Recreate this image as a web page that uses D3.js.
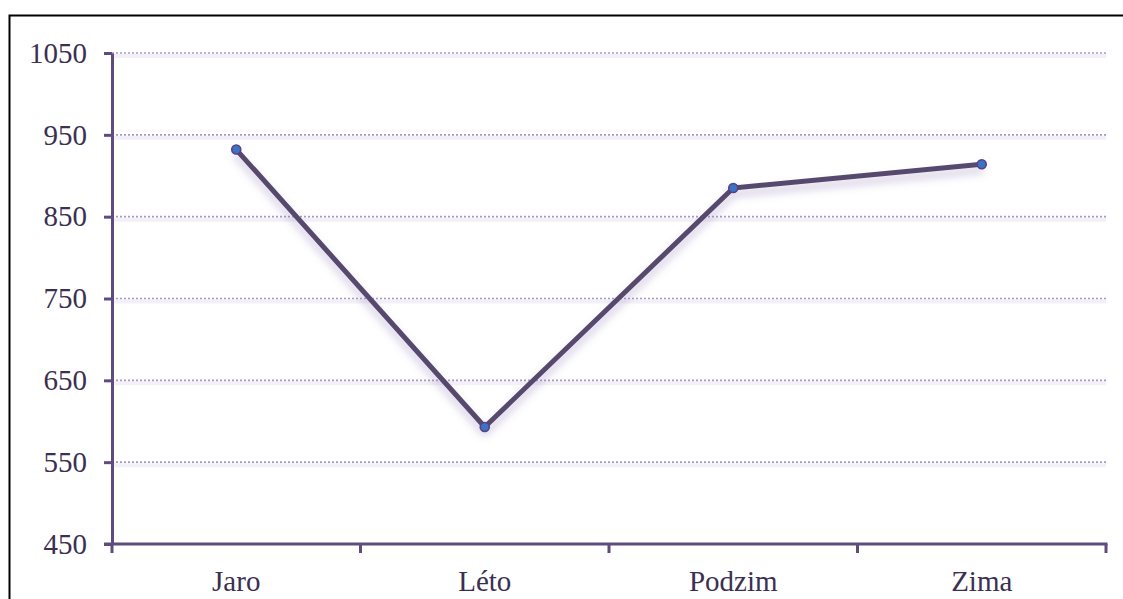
<!DOCTYPE html>
<html>
<head>
<meta charset="utf-8">
<script src="https://cdn.jsdelivr.net/npm/d3@7"></script>
<style>
  html, body { margin: 0; padding: 0; background: #fff; }
  svg { display: block; }
  .lbl { font-family: "Liberation Serif", "Times New Roman", Tinos, "DejaVu Serif", serif; font-size: 29px; }
</style>
</head>
<body>
<script>
// Seasonal values
const categories = ["Jaro", "Léto", "Podzim", "Zima"];
const values = [932, 593, 885, 914];
const yTicks = [450, 550, 650, 750, 850, 950, 1050];

const W = 1123, H = 599;
const plotLeft = 112, plotRight = 1106, plotTop = 53, plotBottom = 544;

const svg = d3.select("body").append("svg").attr("width", W).attr("height", H);

const defs = svg.append("defs");
const shadow = defs.append("filter").attr("id", "lineShadow")
  .attr("x", "-10%").attr("y", "-10%").attr("width", "120%").attr("height", "130%");
shadow.append("feDropShadow")
  .attr("dx", 0).attr("dy", 6).attr("stdDeviation", 4)
  .attr("flood-color", "#8c78b4").attr("flood-opacity", 0.45);

// Outer frame
svg.append("rect")
  .attr("x", 9.5).attr("y", 15.5)
  .attr("width", W + 20).attr("height", H + 20)
  .attr("fill", "none").attr("stroke", "#000").attr("stroke-width", 2);

const x = d3.scaleBand().domain(categories).range([plotLeft, plotRight]).padding(0);
const y = d3.scaleLinear().domain([450, 1050]).range([plotBottom, plotTop]);

// Horizontal gridlines (dotted) with faint underside
const grid = svg.append("g");
yTicks.filter(t => t > 450).forEach(t => {
  grid.append("line")
    .attr("x1", plotLeft).attr("x2", plotRight)
    .attr("y1", y(t) + 3).attr("y2", y(t) + 3)
    .attr("stroke", "#f3f1f7").attr("stroke-width", 4);
  grid.append("line")
    .attr("x1", plotLeft).attr("x2", plotRight)
    .attr("y1", y(t)).attr("y2", y(t))
    .attr("stroke", "#a898c8").attr("stroke-width", 1.6)
    .attr("stroke-dasharray", "2,2");
});

const axisColor = "#5f4b7d";
const textColor = "#3b2f52";

// Y axis
const yAxis = svg.append("g")
  .attr("transform", `translate(${plotLeft},0)`)
  .call(d3.axisLeft(y).tickValues(yTicks).tickSize(8).tickSizeOuter(0).tickPadding(17).tickFormat(d3.format("d")));
yAxis.attr("font-family", null).attr("font-size", null);
yAxis.select(".domain").attr("stroke", axisColor).attr("stroke-width", 3);
yAxis.selectAll(".tick line").attr("stroke", axisColor).attr("stroke-width", 3);
yAxis.selectAll(".tick text").attr("class", "lbl").attr("fill", textColor);

// X axis with tick marks at band boundaries
const xAxis = svg.append("g").attr("transform", `translate(0,${plotBottom})`);
xAxis.append("line")
  .attr("x1", plotLeft - 8).attr("x2", plotRight + 1.5)
  .attr("y1", 0).attr("y2", 0)
  .attr("stroke", axisColor).attr("stroke-width", 3);
const bounds = categories.map(c => x(c)).concat([x(categories[categories.length - 1]) + x.bandwidth()]);
xAxis.selectAll("line.tk").data(bounds).join("line").attr("class", "tk")
  .attr("x1", d => d).attr("x2", d => d)
  .attr("y1", 0).attr("y2", 9)
  .attr("stroke", axisColor).attr("stroke-width", 3);
xAxis.selectAll("text").data(categories).join("text")
  .attr("class", "lbl")
  .attr("x", d => x(d) + x.bandwidth() / 2)
  .attr("y", 47)
  .attr("text-anchor", "middle")
  .attr("fill", textColor)
  .text(d => d);

// Series line
const pts = categories.map((c, i) => [x(c) + x.bandwidth() / 2, y(values[i])]);
svg.append("path")
  .datum(pts)
  .attr("d", d3.line())
  .attr("fill", "none")
  .attr("stroke", "#574a6d")
  .attr("stroke-width", 5)
  .attr("stroke-linejoin", "round")
  .attr("stroke-linecap", "round")
  .attr("filter", "url(#lineShadow)");

// Markers
svg.selectAll("circle.pt").data(pts).join("circle").attr("class", "pt")
  .attr("cx", d => d[0]).attr("cy", d => d[1])
  .attr("r", 4.5)
  .attr("fill", "#3a74c4")
  .attr("stroke", "#5a3f86").attr("stroke-width", 1.6);
</script>
</body>
</html>
